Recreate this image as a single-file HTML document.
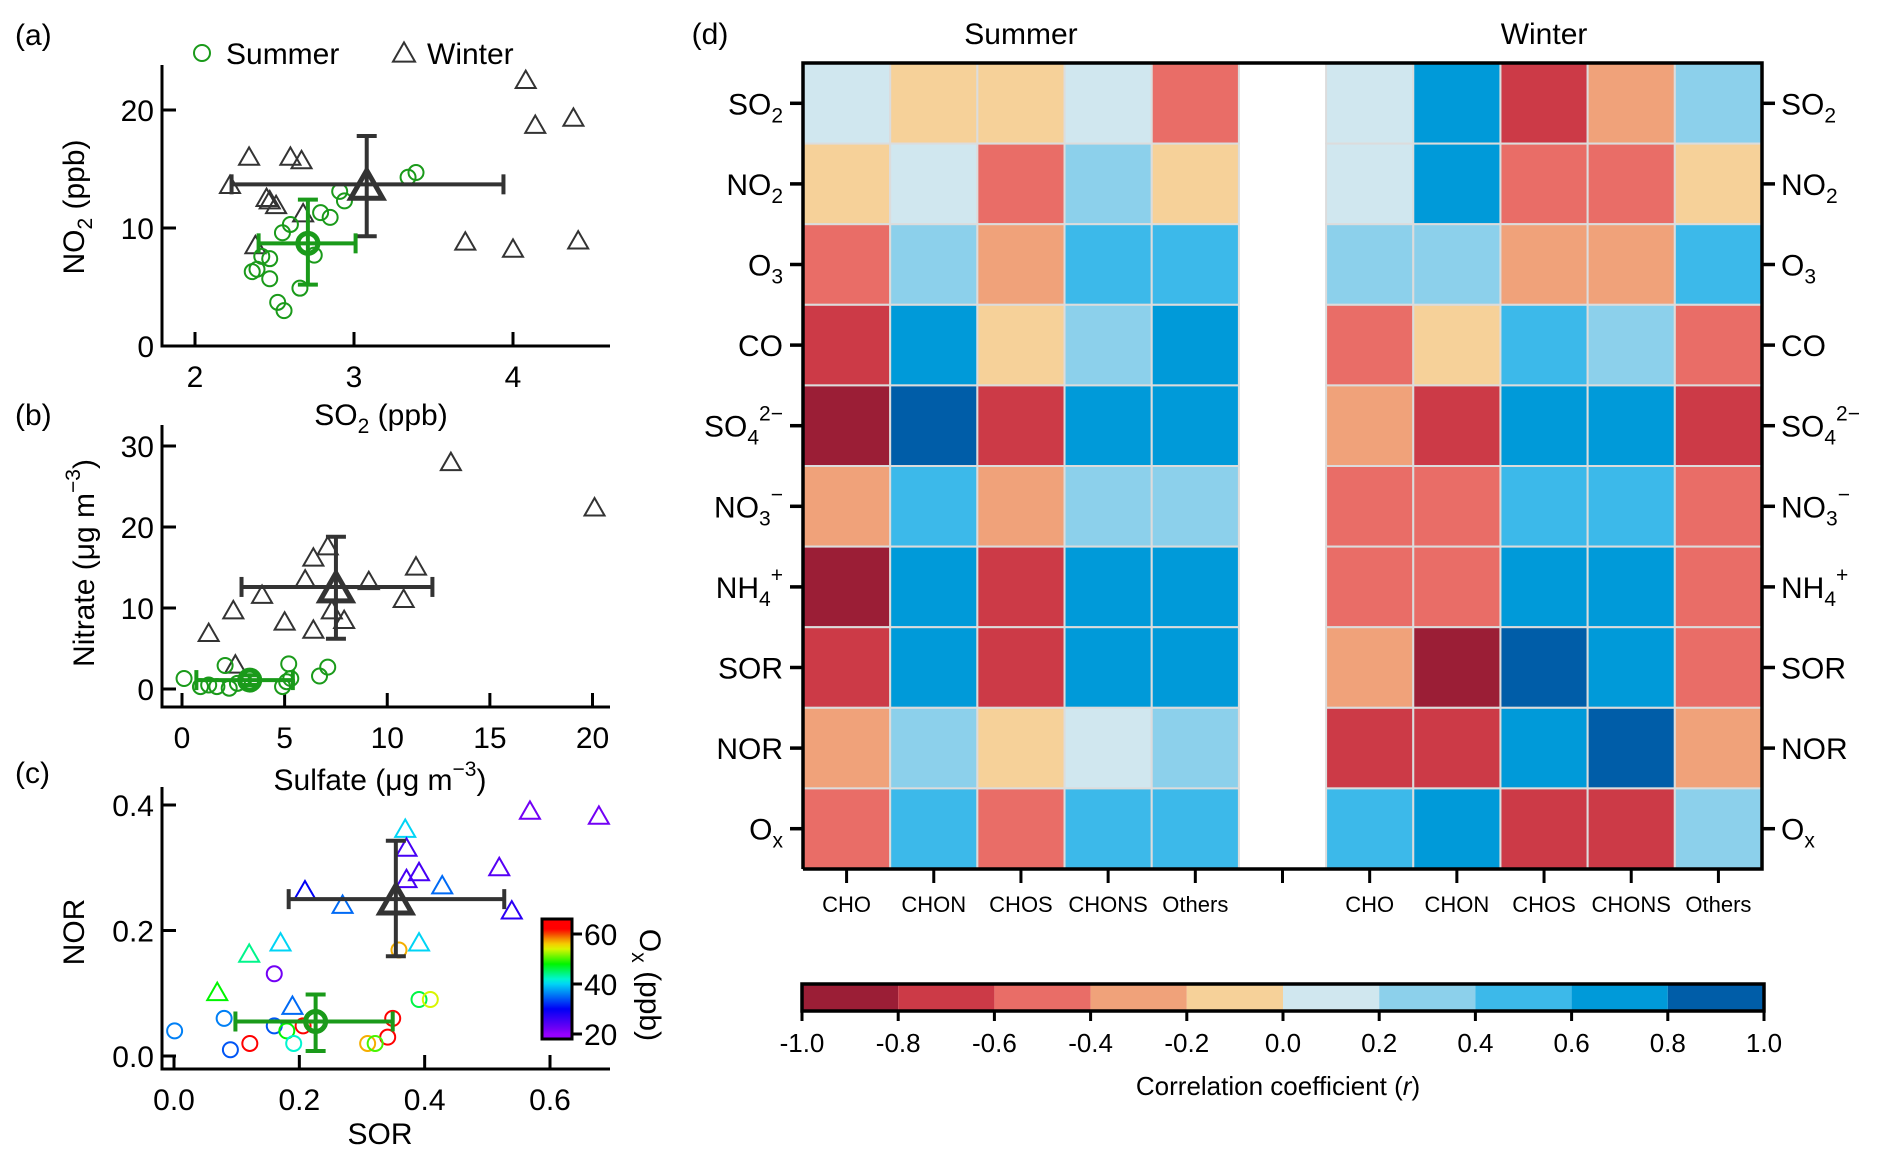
<!DOCTYPE html>
<html><head><meta charset="utf-8">
<style>
html,body{margin:0;padding:0;background:#fff;}
svg{display:block;font-family:"Liberation Sans",Arial,sans-serif;}
</style></head>
<body>
<svg id="fig" width="1892" height="1165" viewBox="0 0 1892 1165" xmlns="http://www.w3.org/2000/svg"></svg>
<script>
// ---------- data ----------
// panel a: SO2 vs NO2
const aSumX=[3.34,3.39,2.91,2.94,2.79,2.85,2.60,2.55,2.42,2.47,2.36,2.39,2.47,2.66,2.52,2.56,2.75];
const aSumY=[14.3,14.7,13.1,12.3,11.3,10.9,10.3,9.6,7.6,7.4,6.3,6.5,5.7,4.9,3.7,3.0,7.7];
const aWinX=[4.08,4.14,4.38,2.34,2.60,2.67,2.22,2.45,2.47,2.51,2.68,2.38,3.70,4.00,4.41];
const aWinY=[22.6,18.8,19.4,16.1,16.1,15.8,13.7,12.6,12.4,12.0,11.3,8.6,8.9,8.3,9.0];
const aSumMean=[2.71,8.7], aSumErrX=[2.40,3.01], aSumErrY=[5.2,12.4];
const aWinMean=[3.08,13.7], aWinErrX=[2.23,3.94], aWinErrY=[9.3,17.8];
const aXTicks=[2,3,4], aYTicks=[0,10,20];
// panel b: sulfate vs nitrate
const bWinX=[13.1,20.1,2.5,1.3,3.9,5.0,6.4,6.0,6.4,7.1,7.3,7.9,9.1,11.4,10.8,2.6];
const bWinY=[28.1,22.5,9.8,7.0,11.7,8.4,7.4,13.6,16.3,17.7,9.8,8.6,13.4,15.2,11.2,3.1];
const bSumX=[0.1,0.9,2.1,1.7,2.3,2.7,5.2,5.1,4.9,6.7,7.1,5.3,1.3];
const bSumY=[1.3,0.3,2.9,0.3,0.1,0.7,3.1,0.9,0.3,1.6,2.7,1.3,0.5];
const bSumMean=[3.3,1.1], bSumErrX=[0.7,5.4], bSumErrY=[0.5,1.7];
const bWinMean=[7.5,12.6], bWinErrX=[2.9,12.2], bWinErrY=[6.2,18.8];
const bXTicks=[0,5,10,15,20], bYTicks=[0,10,20,30];
// panel c: SOR vs NOR coloured by Ox
const cWinX=[0.568,0.678,0.369,0.371,0.391,0.371,0.519,0.428,0.209,0.269,0.539,0.391,0.170,0.120,0.069,0.189];
const cWinY=[0.392,0.384,0.363,0.333,0.294,0.283,0.302,0.273,0.265,0.242,0.233,0.182,0.182,0.164,0.103,0.081];
const cWinOx=[22,22,40,25,25,25,24,35,30,35,27,40,40,44,48,35];
const cSumX=[0.001,0.080,0.090,0.121,0.160,0.160,0.180,0.191,0.206,0.349,0.341,0.309,0.321,0.391,0.409,0.359];
const cSumY=[0.040,0.060,0.010,0.020,0.131,0.048,0.040,0.020,0.048,0.060,0.030,0.020,0.020,0.090,0.090,0.169];
const cSumOx=[36,36,34,62,22,34,48,42,62,62,62,57,50,46,54,57];
const cSumMean=[0.226,0.055], cSumErrX=[0.098,0.349], cSumErrY=[0.008,0.098];
const cWinMean=[0.354,0.250], cWinErrX=[0.183,0.527], cWinErrY=[0.159,0.343];
const cXTicks=[0.0,0.2,0.4,0.6], cYTicks=[0.0,0.2,0.4];
const oxTicks=[20,40,60];
// panel d: heatmap
const rowLabels=["SO2","NO2","O3","CO","SO4","NO3","NH4","SOR","NOR","Ox"];
const colLabels=["CHO","CHON","CHOS","CHONS","Others"];
const summerR=[
[0.1,-0.1,-0.1,0.1,-0.5],
[-0.1,0.1,-0.5,0.3,-0.1],
[-0.5,0.3,-0.3,0.5,0.5],
[-0.7,0.7,-0.1,0.3,0.7],
[-0.9,0.9,-0.7,0.7,0.7],
[-0.3,0.5,-0.3,0.3,0.3],
[-0.9,0.7,-0.7,0.7,0.7],
[-0.7,0.7,-0.7,0.7,0.7],
[-0.3,0.3,-0.1,0.1,0.3],
[-0.5,0.5,-0.5,0.5,0.5]];
const winterR=[
[0.1,0.7,-0.7,-0.3,0.3],
[0.1,0.7,-0.5,-0.5,-0.1],
[0.3,0.3,-0.3,-0.3,0.5],
[-0.5,-0.1,0.5,0.3,-0.5],
[-0.3,-0.7,0.7,0.7,-0.7],
[-0.5,-0.5,0.5,0.5,-0.5],
[-0.5,-0.5,0.7,0.7,-0.5],
[-0.3,-0.9,0.9,0.7,-0.5],
[-0.7,-0.7,0.7,0.9,-0.3],
[0.5,0.7,-0.7,-0.7,0.3]];
const cbTicks=[-1.0,-0.8,-0.6,-0.4,-0.2,0.0,0.2,0.4,0.6,0.8,1.0];
const cbColors=["#9b1e36","#cc3a47","#e96d67","#f0a27a","#f6d199","#d0e7ef","#8cd0eb","#3cb9ea","#009ad9","#005da8"];

// ---------- helpers ----------
const NS="http://www.w3.org/2000/svg";
const svg=document.getElementById('fig');
function mk(tag,attrs,parent){const e=document.createElementNS(NS,tag);for(const k in attrs)e.setAttribute(k,attrs[k]);(parent||svg).appendChild(e);return e;}
function txt(x,y,s,size,anchor,parent,extra){const t=mk('text',Object.assign({x:x,y:y,'font-size':size,'text-anchor':anchor||'middle',fill:'#000'},extra||{}),parent);t.innerHTML=s;return t;}
function lin(d0,d1,r0,r1){return v=>r0+(v-d0)/(d1-d0)*(r1-r0);}
function oxColor(v){const st=[[20,275],[30,240],[40,188],[48,120],[55,58],[58,35],[62,0]];if(v<=20)return 'hsl(275,100%,50%)';if(v>=62)return 'hsl(0,100%,50%)';for(let i=0;i<st.length-1;i++){if(v<=st[i+1][0]){const h=st[i][1]+(v-st[i][0])/(st[i+1][0]-st[i][0])*(st[i+1][1]-st[i][1]);return 'hsl('+h+',100%,48%)';}}}
function tri(g,cx,cy,s,col,w){const h=s*0.87;return mk('polygon',{points:(cx-s/2)+','+(cy+h/2)+' '+(cx+s/2)+','+(cy+h/2)+' '+cx+','+(cy-h/2),fill:'none',stroke:col,'stroke-width':w},g);}
function circ(g,cx,cy,r,col,w){return mk('circle',{cx:cx,cy:cy,r:r,fill:'none',stroke:col,'stroke-width':w},g);}
function errbar(g,sx,sy,mean,ex,ey,col){
  mk('line',{x1:sx(ex[0]),x2:sx(ex[1]),y1:sy(mean[1]),y2:sy(mean[1]),stroke:col,'stroke-width':4},g);
  mk('line',{x1:sx(mean[0]),x2:sx(mean[0]),y1:sy(ey[0]),y2:sy(ey[1]),stroke:col,'stroke-width':4},g);
  [ex[0],ex[1]].forEach(v=>mk('line',{x1:sx(v),x2:sx(v),y1:sy(mean[1])-10,y2:sy(mean[1])+10,stroke:col,'stroke-width':4},g));
  [ey[0],ey[1]].forEach(v=>mk('line',{y1:sy(v),y2:sy(v),x1:sx(mean[0])-10,x2:sx(mean[0])+10,stroke:col,'stroke-width':4},g));
}
function axes(g,x0,x1,y0,y1,sx,sy,xt,yt,fmt){
  mk('line',{x1:x0,x2:x0,y1:y0,y2:y1+1.5,stroke:'#000','stroke-width':3},g);
  mk('line',{x1:x0-1.5,x2:x1,y1:y1,y2:y1,stroke:'#000','stroke-width':3},g);
  xt.forEach(v=>{mk('line',{x1:sx(v),x2:sx(v),y1:y1,y2:y1-14,stroke:'#000','stroke-width':3},g);txt(sx(v),y1+41,fmt(v),30,'middle',g);});
  yt.forEach(v=>{mk('line',{x1:x0,x2:x0+14,y1:sy(v),y2:sy(v),stroke:'#000','stroke-width':3},g);txt(x0-8,sy(v)+11,fmt(v),30,'end',g);});
}
const GREEN='#1a9a1a', DARK='#333';

// ---------- panel a ----------
{
const g=mk('g',{});


const sx=lin(2,3,195,354), sy=lin(0,10,346,228);
txt(15,45,'(a)',30,'start',g);
axes(g,162,610,65,346,sx,sy,aXTicks,aYTicks,v=>String(v));
txt(381,425,'SO<tspan font-size="21" dy="8">2</tspan><tspan dy="-8"> (ppb)</tspan>',30,'middle',g);
const yl=txt(0,0,'NO<tspan font-size="21" dy="8">2</tspan><tspan dy="-8"> (ppb)</tspan>',30,'middle',g,{transform:'translate(84,207) rotate(-90)'});
// legend
const lg=mk('g',{},g);


circ(lg,202,53,8,GREEN,2);
txt(226,64,'Summer',30,'start',lg);
tri(lg,404,52,22,DARK,2);
txt(427,64,'Winter',30,'start',lg);
aWinX.forEach((x,i)=>{const m=tri(g,sx(x),sy(aWinY[i]),20,DARK,2);});
aSumX.forEach((x,i)=>{const m=circ(g,sx(x),sy(aSumY[i]),7.5,GREEN,2);});
errbar(g,sx,sy,aWinMean,aWinErrX,aWinErrY,DARK);
tri(g,sx(aWinMean[0]),sy(aWinMean[1]),32,DARK,5);
errbar(g,sx,sy,aSumMean,aSumErrX,aSumErrY,GREEN);
circ(g,sx(aSumMean[0]),sy(aSumMean[1]),10,GREEN,5);
}
// ---------- panel b ----------
{
const g=mk('g',{});


const sx=lin(0,20,182,592.5), sy=lin(0,10,689,608);
txt(15,425,'(b)',30,'start',g);
axes(g,162,610,425,707,sx,sy,bXTicks,bYTicks,v=>String(v));
txt(380,790,'Sulfate (μg m<tspan font-size="21" dy="-14">−3</tspan><tspan dy="14">)</tspan>',30,'middle',g);
txt(0,0,'Nitrate (μg m<tspan font-size="21" dy="-14">−3</tspan><tspan dy="14">)</tspan>',30,'middle',g,{transform:'translate(94,563) rotate(-90)'});
bWinX.forEach((x,i)=>{const m=tri(g,sx(x),sy(bWinY[i]),20,DARK,2);});
bSumX.forEach((x,i)=>{const m=circ(g,sx(x),sy(bSumY[i]),7.5,GREEN,2);});
errbar(g,sx,sy,bWinMean,bWinErrX,bWinErrY,DARK);
tri(g,sx(bWinMean[0]),sy(bWinMean[1]),32,DARK,5);
errbar(g,sx,sy,bSumMean,bSumErrX,bSumErrY,GREEN);
circ(g,sx(bSumMean[0]),sy(bSumMean[1]),10,GREEN,5);
}
// ---------- panel c ----------
{
const g=mk('g',{});


const sx=lin(0,0.6,174,550), sy=lin(0,0.4,1056,805);
txt(15,783,'(c)',30,'start',g);
axes(g,162,610,787,1069,sx,sy,cXTicks,cYTicks,v=>v.toFixed(1));
txt(380,1144,'SOR',30,'middle',g);
txt(0,0,'NOR',30,'middle',g,{transform:'translate(84,932) rotate(-90)'});
cWinX.forEach((x,i)=>{const m=tri(g,sx(x),sy(cWinY[i]),20,oxColor(cWinOx[i]),2);});
cSumX.forEach((x,i)=>{const m=circ(g,sx(x),sy(cSumY[i]),7.5,oxColor(cSumOx[i]),2);});
errbar(g,sx,sy,cWinMean,cWinErrX,cWinErrY,DARK);
tri(g,sx(cWinMean[0]),sy(cWinMean[1]),32,DARK,5);
errbar(g,sx,sy,cSumMean,cSumErrX,cSumErrY,GREEN);
circ(g,sx(cSumMean[0]),sy(cSumMean[1]),10,GREEN,5);
// Ox colour bar
const cb=mk('g',{},g);


const defs=mk('defs',{},cb);
const lg=mk('linearGradient',{id:'oxg',x1:0,y1:1,x2:0,y2:0},defs);
for(let v=18;v<=66;v+=2){mk('stop',{offset:((v-18)/48*100)+'%','stop-color':oxColor(v)},lg);}
const cy=lin(20,60,1034,934);
mk('rect',{x:542,y:cy(66),width:30,height:cy(18)-cy(66),fill:'url(#oxg)',stroke:'#000','stroke-width':3},cb);
oxTicks.forEach(v=>{mk('line',{x1:572,x2:582,y1:cy(v),y2:cy(v),stroke:'#000','stroke-width':3},cb);txt(584,cy(v)+11,String(v),30,'start',cb);});
txt(0,0,'O<tspan font-size="21" dy="8">x</tspan><tspan dy="-8"> (ppb)</tspan>',30,'middle',cb,{transform:'translate(640,985) rotate(90)'});
}
// ---------- panel d heatmap ----------
{
const g=mk('g',{});


const L=803,R=1762,T=63,B=869;
const cw=(R-L)/11, rh=(B-T)/10;
const colIdx=i=>i; // column index to x
const cx=i=>L+i*cw, ry=j=>T+j*rh;
function col(v){let k=Math.floor((v+1)/0.2);if(k<0)k=0;if(k>9)k=9;return cbColors[k];}
txt(710,44,'(d)',30,'middle',g);
txt(cx(2.5),44,'Summer',30,'middle',g);
txt(cx(8.5),44,'Winter',30,'middle',g);
[[summerR,0],[winterR,6]].forEach(([M,off])=>{
  M.forEach((row,j)=>row.forEach((v,i)=>{
    const r=mk('rect',{x:cx(i+off),y:ry(j),width:cw,height:rh,fill:col(v),stroke:'#dcdcdc','stroke-width':2},g);
    
    
  }));
});
mk('path',{d:'M'+L+' '+B+' V'+T+' H'+R+' V'+B+' H'+L,fill:'none',stroke:'#000','stroke-width':3.5},g);
const lab={SO2:'SO<tspan font-size="21" dy="8">2</tspan>',NO2:'NO<tspan font-size="21" dy="8">2</tspan>',O3:'O<tspan font-size="21" dy="8">3</tspan>',CO:'CO',
 SO4:'SO<tspan font-size="21" dy="8">4</tspan><tspan font-size="21" dy="-24">2−</tspan>',NO3:'NO<tspan font-size="21" dy="8">3</tspan><tspan font-size="21" dy="-24">−</tspan>',
 NH4:'NH<tspan font-size="21" dy="8">4</tspan><tspan font-size="21" dy="-24">+</tspan>',SOR:'SOR',NOR:'NOR',Ox:'O<tspan font-size="21" dy="8">x</tspan>'};
const labW={SO2:62,NO2:65,O3:40,CO:0,SO4:80,NO3:80,NH4:70,SOR:0,NOR:0,Ox:40};
rowLabels.forEach((k,j)=>{
  const y=ry(j)+rh/2;
  mk('line',{x1:L-13,x2:L,y1:y,y2:y,stroke:'#000','stroke-width':3.5},g);
  mk('line',{x1:R,x2:R+13,y1:y,y2:y,stroke:'#000','stroke-width':3.5},g);
  txt(L-20,y+11,lab[k],30,'end',g);
  txt(R+19,y+11,lab[k],30,'start',g);
});
for(let i=0;i<11;i++){const x=cx(i)+cw/2;mk('line',{x1:x,x2:x,y1:B,y2:B+14,stroke:'#000','stroke-width':3},g);}
colLabels.forEach((c,i)=>{txt(cx(i)+cw/2,912,c,22,'middle',g);txt(cx(i+6)+cw/2,912,c,22,'middle',g);});
// colour bar
const cb=mk('g',{},g);


const bx=lin(-1,1,802,1764);
cbColors.forEach((c,k)=>mk('rect',{x:bx(cbTicks[k]),y:984,width:bx(cbTicks[k+1])-bx(cbTicks[k]),height:27,fill:c},cb));
mk('rect',{x:bx(-1),y:984,width:bx(1)-bx(-1),height:27,fill:'none',stroke:'#000','stroke-width':3.5},cb);
cbTicks.forEach(v=>{mk('line',{x1:bx(v),x2:bx(v),y1:1011,y2:1021,stroke:'#000','stroke-width':3},cb);txt(bx(v),1052,v.toFixed(1),26,'middle',cb);});
txt(1278,1095,'Correlation coefficient (<tspan font-style="italic">r</tspan>)',26,'middle',cb);
}
</script>
</body></html>
